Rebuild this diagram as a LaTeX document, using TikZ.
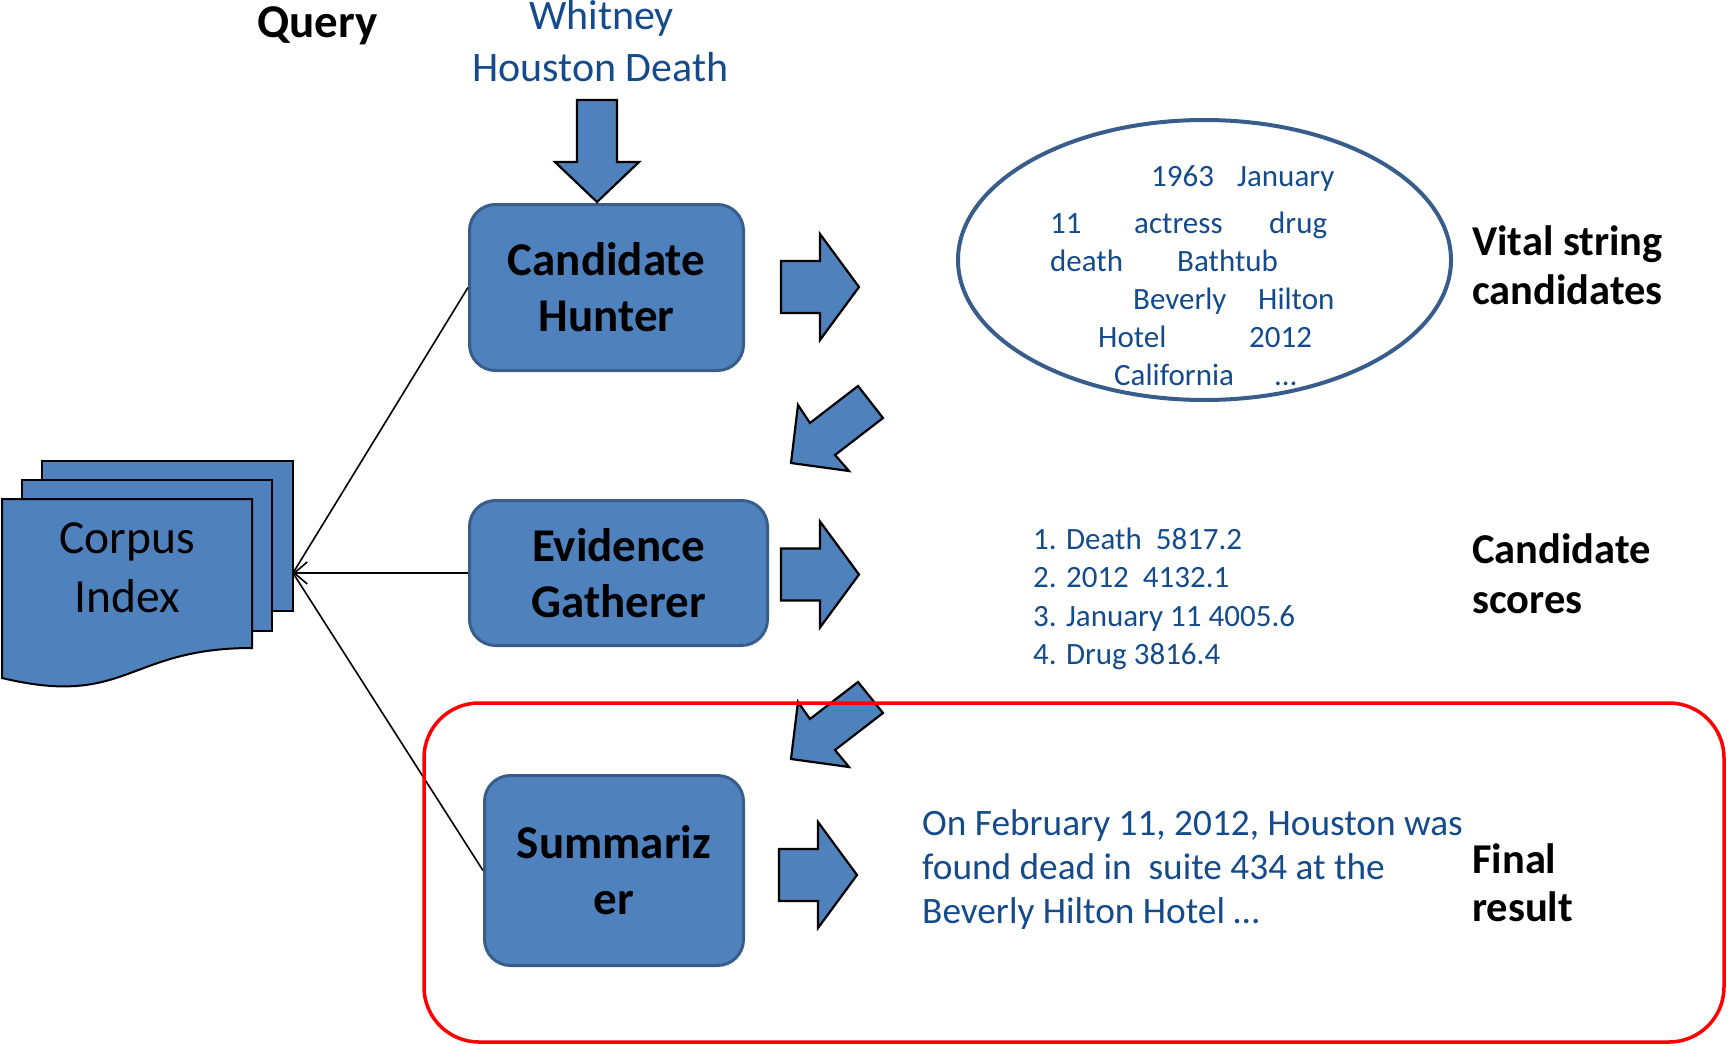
\documentclass[tikz,border=0pt]{standalone}
\usepackage{fontspec}
\setmainfont{Carlito}
\usetikzlibrary{shapes.geometric,arrows.meta}
\definecolor{boxfill}{HTML}{4F81BD}
\definecolor{boxline}{HTML}{385D8A}
\definecolor{txtblue}{HTML}{144B8C}
\begin{document}
\begin{tikzpicture}[x=1pt,y=-1pt,
  page/.style={fill=boxfill,draw=black,line width=2pt,line join=miter},
  stage/.style={rectangle,rounded corners=26pt,fill=boxfill,draw=boxline,line width=3pt,
    align=center,inner sep=0pt,font=\fontsize{47}{56}\selectfont\bfseries},
  blockarrow/.style={fill=boxfill,draw=black,line width=2.2pt,line join=miter},
  link/.style={draw=black,line width=1.6pt},
  word/.style={anchor=base west,inner sep=0pt,text=txtblue,font=\fontsize{31}{38}\selectfont},
  result/.style={anchor=base west,inner sep=0pt,text=txtblue,font=\fontsize{37.3}{44}\selectfont},
  heading/.style={anchor=base west,inner sep=0pt,font=\fontsize{42.5}{48}\selectfont\bfseries},
  bigtext/.style={anchor=base,inner sep=0pt,font=\fontsize{47.5}{56}\selectfont},
]
\useasboundingbox (0,0) rectangle (1729,1046);

% stacked pages of the corpus index
\draw[page] (42,461) rectangle (293,611);
\draw[page] (22,480) rectangle (272,631);
\draw[page] (2,499) -- (252,499) -- (252,648)
  .. controls (127,648) and (127,708) .. (2,678) -- cycle;
\node[bigtext] (corpus1) at (127,553) {Corpus};
\node[bigtext] (corpus2) at (127,612) {Index};
\coordinate (cin) at (293,573);

% processing stages
\node[stage,minimum width=274pt,minimum height=166pt] (hunter) at (606.5,287.5) {Candidate\\Hunter};
\node[stage,minimum width=298pt,minimum height=145pt] (gather) at (618.5,573) {Evidence\\Gatherer};
\node[stage,minimum width=259pt,minimum height=190pt] (summ) at (614,870.5) {Summariz\\er};

% links to the index
\draw[link] (hunter.west) -- (cin);
\draw[link,-{Straight Barb[length=13pt,width=22pt]}] (gather.west) -- (cin);
\draw[link] (summ.west) -- (cin);

% query
\node[anchor=base west,inner sep=0pt,font=\fontsize{47}{54}\selectfont\bfseries] (qlabel) at (257,38) {Query};
\node[anchor=base,inner sep=0pt,text=txtblue,font=\fontsize{42}{50}\selectfont] (q1) at (601.5,30) {Whitney};
\node[anchor=base,inner sep=0pt,text=txtblue,font=\fontsize{42}{50}\selectfont] (q2) at (600.5,82) {Houston Death};

% block arrows
\draw[blockarrow] (577,100) -- (617,100) -- (617,162) -- (639,162) -- (597,202)
  -- (555,162) -- (577,162) -- cycle;
\foreach \x/\y in {781/287,781/574.5,779/875}
  \draw[blockarrow,shift={(\x,\y)}] (0,-26) -- (39,-26) -- (39,-53) -- (78,0)
    -- (39,53) -- (39,26) -- (0,26) -- cycle;
\draw[blockarrow] (791,463) -- (798,405) -- (810,423) -- (858,386) -- (883,418)
  -- (835,455) -- (849,471) -- cycle;
\draw[blockarrow] (791,759) -- (798,702) -- (810,719) -- (858,682) -- (883,713)
  -- (835,750) -- (849,767) -- cycle;

% vital string candidates
\node[ellipse,draw=boxline,line width=4pt,minimum width=493pt,minimum height=280pt,inner sep=0pt]
  (cands) at (1204.5,260) {};
\foreach \w/\x/\y [count=\i] in {1963/1151/186,January/1237/186,
    11/1050/233,actress/1134/233,drug/1269/233,
    death/1050/271,Bathtub/1177/271,
    Beverly/1133/309,Hilton/1258/309,
    Hotel/1098/347,2012/1249/347,
    California/1114/385,…/1275/385}
  \node[word] (w\i) at (\x,\y) {\w};

% candidate scores
\node[word] (s1) at (1033,549) {1. Death~ 5817.2};
\node[word] (s2) at (1033,587) {2. 2012~ 4132.1};
\node[word] (s3) at (1033,626) {3. January 11 4005.6};
\node[word] (s4) at (1033,664) {4. Drug 3816.4};

% summary
\node[result] (r1) at (922,835) {On February 11, 2012, Houston was};
\node[result] (r2) at (922,879) {found dead in~ suite 434 at the};
\node[result] (r3) at (922,923) {Beverly Hilton Hotel …};

% side headings
\node[heading] (h1) at (1472,255) {Vital string};
\node[heading] (h2) at (1472,304) {candidates};
\node[heading] (h3) at (1472,563) {Candidate};
\node[heading] (h4) at (1472,613) {scores};
\node[heading] (h5) at (1472,873) {Final};
\node[heading] (h6) at (1472,921) {result};

% highlighted final stage
\node[draw=red,line width=3.5pt,rounded corners=55pt,minimum width=1300pt,minimum height=339pt,inner sep=0pt]
  (frame) at (1074,872.5) {};
\end{tikzpicture}
\end{document}
